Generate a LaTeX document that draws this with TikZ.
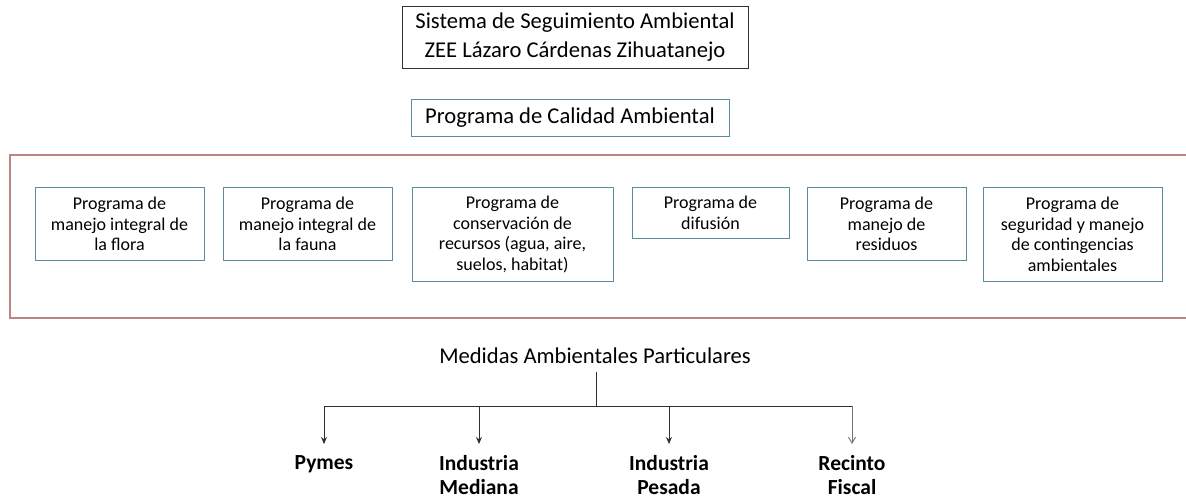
\documentclass[tikz,border=0pt]{standalone}
\usepackage{fontspec}
\setmainfont{Carlito}
\usetikzlibrary{arrows.meta}
\definecolor{tealb}{HTML}{5A8E9C}
\definecolor{redf}{HTML}{BC8484}
\definecolor{linec}{HTML}{303030}
\tikzset{
  titlebox/.style={draw=black!80, line width=0.9pt, inner sep=0pt, align=center, font=\fontsize{22.6}{28.5}\selectfont},
  calbox/.style={draw=tealb, line width=0.9pt, inner sep=0pt, align=center, font=\fontsize{22.6}{28}\selectfont},
  progbox/.style={draw=tealb, line width=0.9pt, inner sep=0pt, align=center, anchor=north, font=\fontsize{18}{20.5}\selectfont},
  leaf/.style={align=center, anchor=north, inner sep=0pt, font=\fontsize{21.5}{24.5}\selectfont\bfseries},
  conn/.style={draw=linec, line width=0.9pt},
  arr/.style={conn, -{Stealth[length=7pt,width=6pt]}},
  arrlight/.style={draw=black!55, line width=0.9pt, -{Straight Barb[length=6pt,width=7pt]}}
}
\begin{document}
\begin{tikzpicture}[x=1pt,y=-1pt]
\useasboundingbox (0,0) rectangle (1186,499);
\node[titlebox, minimum width=346pt, minimum height=62pt] (top) at (575,37) {Sistema de Seguimiento Ambiental\\ZEE Lázaro Cárdenas Zihuatanejo};
\node[calbox, minimum width=318pt, minimum height=37pt] (cal) at (570,117.5) {Programa de Calidad Ambiental};
\draw[redf, line width=1.2pt] (1186,155) -- (10,155) -- (10,318) -- (1186,318);
\node[progbox, minimum width=169pt, minimum height=73pt] (p1) at (119.5,187) {Programa de\\manejo integral de\\la flora};
\node[progbox, minimum width=169pt, minimum height=73pt] (p2) at (307.5,187) {Programa de\\manejo integral de\\la fauna};
\node[progbox, minimum width=201pt, minimum height=94pt] (p3) at (512.5,187) {Programa de\\conservación de\\recursos (agua, aire,\\suelos, habitat)};
\node[progbox, minimum width=157pt, minimum height=51pt] (p4) at (710.5,187) {Programa de\\difusión};
\node[progbox, minimum width=159pt, minimum height=73pt] (p5) at (886.5,187) {Programa de\\manejo de\\residuos};
\node[progbox, minimum width=179pt, minimum height=94pt] (p6) at (1072.5,187) {Programa de\\seguridad y manejo\\de contingencias\\ambientales};
\node[font=\fontsize{22.6}{28}\selectfont, inner sep=0pt] (med) at (595,356) {Medidas Ambientales Particulares};
\coordinate (j) at (596,406);
\coordinate (jl) at (324,406);
\coordinate (jr) at (852,406);
\node[leaf] (pym) at (324,455) {Pymes};
\node[leaf] (med2) at (479,455) {Industria\\Mediana};
\node[leaf] (pes) at (669,455) {Industria\\Pesada};
\node[leaf] (rec) at (852,455) {Recinto\\Fiscal};
\draw[conn] (596,372) -- (j);
\draw[conn] (jl) -- (jr);
\draw[arr] (jl) -- (324,444);
\draw[arr] (479,406) -- (479,444);
\draw[arr] (669,406) -- (669,444);
\draw[arrlight] (jr) -- (852,444);
\end{tikzpicture}
\end{document}
